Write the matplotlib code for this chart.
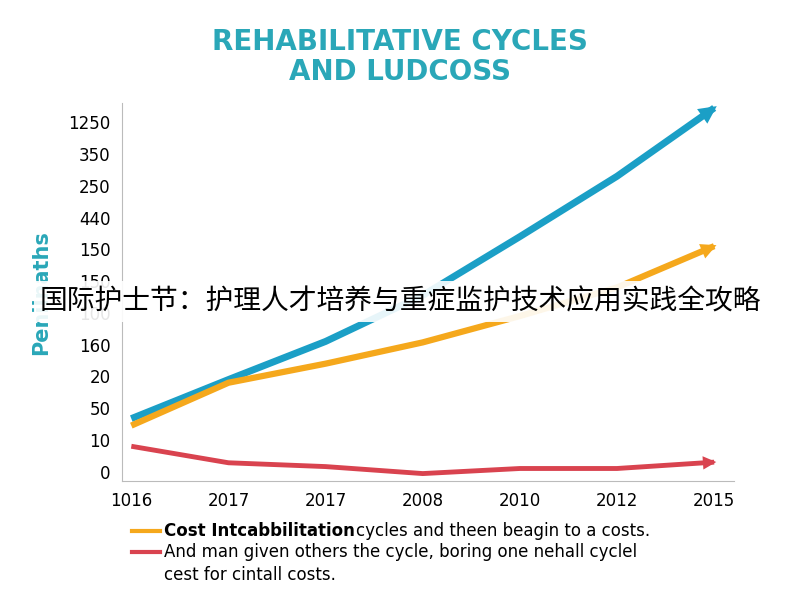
import matplotlib
matplotlib.use("Agg")
import matplotlib.pyplot as plt

x_labels = ["1016", "2017", "2017", "2008", "2010", "2012", "2015"]
y_labels = ["0", "10", "50", "20", "160", "100", "150", "150", "440", "250", "350", "1250"]
blue = [1.67, 2.9, 4.1, 5.55, 7.4, 9.3, 11.45]
orange = [1.45, 2.8, 3.4, 4.07, 4.9, 5.8, 7.1]
red = [0.8, 0.28, 0.16, -0.06, 0.1, 0.1, 0.3]

plt.rcParams['font.family'] = ['DejaVu Sans', 'Noto Sans CJK SC']
fig = plt.figure(figsize=(8, 6), dpi=100)
ax = fig.add_axes([0.152, 0.198, 0.765, 0.63])
xs = list(range(len(x_labels)))

ax.plot(xs, blue, color="#1b9fc6", lw=5, solid_capstyle="butt")
ax.plot(xs, orange, color="#f5a81c", lw=4.5, solid_capstyle="butt")
ax.plot(xs, red, color="#d9434f", lw=3.5, solid_capstyle="butt")
for s, c, w in [(blue, "#1b9fc6", 32), (orange, "#f5a81c", 28), (red, "#d9434f", 24)]:
    ax.annotate("", xy=(xs[-1] + 0.05, s[-1] + (s[-1] - s[-2]) * 0.05), xytext=(xs[-1] - 0.2, s[-1] - (s[-1] - s[-2]) * 0.2),
                arrowprops=dict(arrowstyle="-|>", color=c, lw=0, mutation_scale=w))

ax.set_xticks(xs)
ax.set_xticklabels(x_labels, fontsize=12)
ax.set_yticks(range(len(y_labels)))
ax.set_yticklabels(y_labels, fontsize=12)
ax.tick_params(length=0, pad=8)
ax.set_xlim(-0.1, 6.2)
ax.set_ylim(-0.3, 11.6)
for sp in ["top", "right"]:
    ax.spines[sp].set_visible(False)
for sp in ["left", "bottom"]:
    ax.spines[sp].set_color("#bbbbbb")
ax.set_ylabel("Penilnaths", color="#2aa7b8", fontsize=15, fontweight="bold", labelpad=12)

fig.text(0.5, 0.905, "REHABILITATIVE CYCLES\nAND LUDCOSS", ha="center", va="center",
         fontsize=20, fontweight="bold", color="#2aa7b8", linespacing=1.1)

fig.lines.append(plt.Line2D([0.165, 0.2], [0.115, 0.115], color="#f5a81c", lw=3, transform=fig.transFigure))
fig.lines.append(plt.Line2D([0.165, 0.2], [0.08, 0.08], color="#d9434f", lw=3, transform=fig.transFigure))
fig.text(0.205, 0.115, "Cost Intcabbilitation", fontsize=12, fontweight="bold", va="center")
fig.text(0.445, 0.115, "cycles and theen beagin to a costs.", fontsize=12, va="center")
fig.text(0.205, 0.08, "And man given others the cycle, boring one nehall cyclel", fontsize=12, va="center")
fig.text(0.205, 0.042, "cest for cintall costs.", fontsize=12, va="center")

fig.text(0.5, 0.497, "国际护士节：护理人才培养与重症监护技术应用实践全攻略", ha="center", va="center",
         fontsize=20, family=['Noto Sans CJK SC', 'DejaVu Sans'], zorder=10,
         bbox=dict(facecolor="white", edgecolor="none", pad=4, alpha=0.9))
fig.savefig("out.png")
